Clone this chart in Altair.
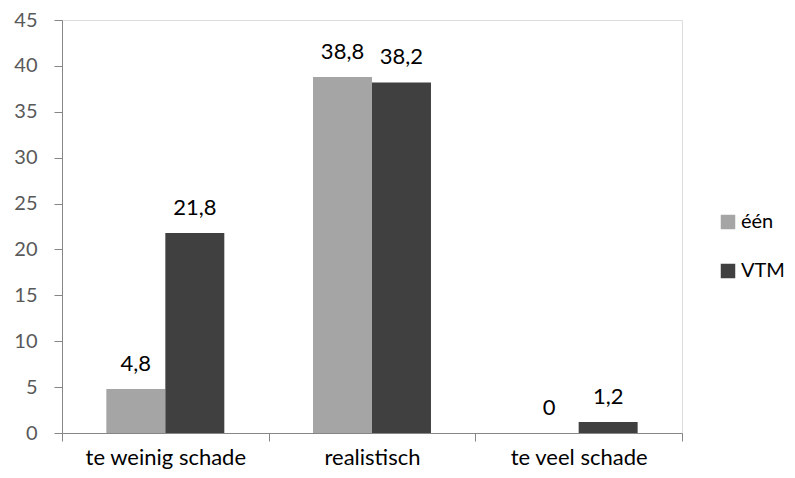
import altair as alt
import pandas as pd

categories = ["te weinig schade", "realistisch", "te veel schade"]
series = ["één", "VTM"]
een_values = [4.8, 38.8, 0.0]
vtm_values = [21.8, 38.2, 1.2]
y_ticks = [0, 5, 10, 15, 20, 25, 30, 35, 40, 45]
colors = ["#a5a5a5", "#404040"]

rows = []
for c, a, b in zip(categories, een_values, vtm_values):
    rows.append({"cat": c, "serie": series[0], "value": a})
    rows.append({"cat": c, "serie": series[1], "value": b})
df = pd.DataFrame(rows)
df["label"] = df["value"].map(lambda v: ("%g" % v).replace(".", ","))

FONT = "Lato"

x = alt.X("cat:N", sort=categories, title=None,
          scale=alt.Scale(paddingInner=0, paddingOuter=0),
          axis=alt.Axis(labelAngle=0, labelFontSize=22, labelColor="#000000",
                        labelFont=FONT, domainColor="#868686", tickColor="#868686",
                        tickSize=8, tickBand="extent", labelPadding=6, grid=False))
xo = alt.XOffset("serie:N", sort=series,
                 scale=alt.Scale(paddingInner=0, paddingOuter=0.752))
y = alt.Y("value:Q", title=None,
          scale=alt.Scale(domain=[0, 45], nice=False),
          axis=alt.Axis(values=y_ticks, labelFontSize=20, labelColor="#595959",
                        labelFont=FONT, domainColor="#868686", tickColor="#868686",
                        tickSize=8, labelPadding=17, grid=False))
color = alt.Color("serie:N", sort=series, title=None,
                  scale=alt.Scale(domain=series, range=colors),
                  legend=alt.Legend(orient="none", legendX=656, legendY=192,
                                    symbolType="square", symbolSize=210,
                                    symbolStrokeWidth=0, labelFontSize=20,
                                    labelFont=FONT, labelColor="#000000",
                                    rowPadding=29, labelOffset=3))

bars = alt.Chart(df).mark_bar().encode(x=x, xOffset=xo, y=y, color=color)
text = alt.Chart(df).mark_text(baseline="alphabetic", dy=-18, fontSize=22,
                               font=FONT, color="#000000").encode(
    x=x, xOffset=xo, y=y, text="label:N")

chart = (bars + text).properties(
    width=620, height=413,
    autosize=alt.AutoSizeParams(type="none"),
    padding={"left": 54, "top": 12, "right": 105, "bottom": 37},
).configure_view(stroke=None).configure(background="#ffffff")

chart.save("out.html", embed_options={"renderer": "svg", "actions": False})
